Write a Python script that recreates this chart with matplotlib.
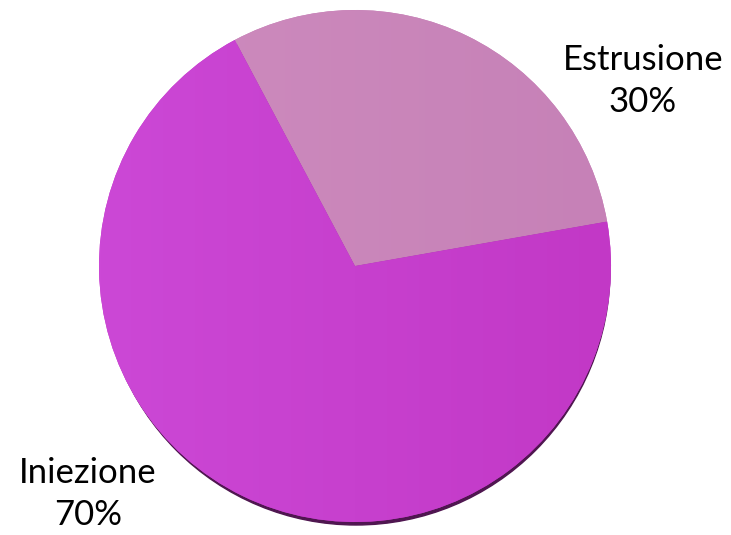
import numpy as np
import matplotlib.pyplot as plt
from matplotlib.patches import Ellipse
from matplotlib.colors import LinearSegmentedColormap

labels = ['Estrusione', 'Iniezione']
values = [30, 70]
colors_left = ['#CE8CBE', '#CC48D6']
colors_right = ['#C681B7', '#C238C6']

W, H = 731, 535
fig = plt.figure(figsize=(W / 100, H / 100), dpi=100)
ax = fig.add_axes([0, 0, 1, 1])

cx, cy, r = 355, H - 266, 256

# ombra sotto la torta
ax.add_patch(Ellipse((cx + 1, cy - 4), 2 * r - 4, 2 * r - 2, color='#4F1650', zorder=0))

wedges, _ = ax.pie(values, colors=colors_right, startangle=118, counterclock=False,
                   center=(cx, cy), radius=r, frame=True,
                   wedgeprops=dict(linewidth=0))

# leggero sfumato orizzontale come nell'originale
grad = np.linspace(0, 1, 256).reshape(1, -1)
for w, c1, c2 in zip(wedges, colors_left, colors_right):
    cmap = LinearSegmentedColormap.from_list('g', [c1, c2])
    im = ax.imshow(grad, cmap=cmap, extent=(cx - r, cx + r, cy - r, cy + r),
                   aspect='auto', zorder=2)
    im.set_clip_path(w)

ax.set_xlim(0, W)
ax.set_ylim(0, H)
ax.set_aspect('equal')
ax.axis('off')

font = ['Lato', 'DejaVu Sans']
ax.text(643, H - 81, f'{labels[0]}\n{values[0]}%', ha='center', va='center',
        fontsize=25, family=font, linespacing=1.42)
ax.text(88, H - 494, f'{labels[1]}\n{values[1]}%', ha='center', va='center',
        fontsize=25, family=font, linespacing=1.42)

fig.savefig('out.png', dpi=100)
